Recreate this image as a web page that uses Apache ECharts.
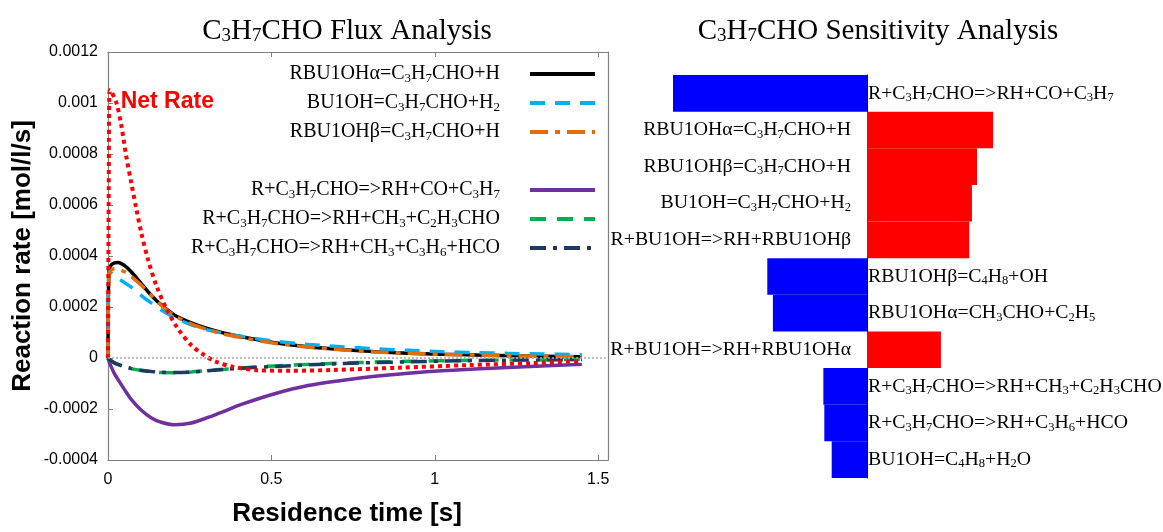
<!DOCTYPE html>
<html>
<head>
<meta charset="utf-8">
<script src="https://cdn.jsdelivr.net/npm/echarts@6/dist/echarts.min.js"></script>
<style>
html, body { margin: 0; padding: 0; background: #fff; }
#chart { width: 1163px; height: 532px; }
</style>
</head>
<body>
<div id="chart"></div>
<script>
// _n marks a subscript digit in the names below
// flux analysis, rates in 1e-4 mol/l/s
const time = [0, 0.003, 0.01, 0.02, 0.031, 0.051, 0.071, 0.102, 0.133, 0.163, 0.204, 0.255, 0.306, 0.357, 0.408, 0.51, 0.612, 0.714, 0.816, 0.918, 1.02, 1.122, 1.224, 1.326, 1.45]
const rbuAlphaH = [0, 3.45, 3.65, 3.73, 3.75, 3.62, 3.38, 2.92, 2.45, 2.08, 1.68, 1.38, 1.15, 0.97, 0.83, 0.60, 0.44, 0.33, 0.25, 0.19, 0.15, 0.12, 0.09, 0.07, 0.05]
const bu1ohH2 = [0, 3.38, 3.33, 3.22, 3.12, 2.95, 2.78, 2.45, 2.15, 1.88, 1.58, 1.30, 1.10, 0.96, 0.85, 0.66, 0.53, 0.44, 0.36, 0.30, 0.25, 0.21, 0.18, 0.155, 0.13]
const rbuBetaH = [0, 3.2, 3.45, 3.50, 3.48, 3.38, 3.20, 2.85, 2.45, 2.07, 1.66, 1.34, 1.11, 0.93, 0.80, 0.58, 0.43, 0.32, 0.24, 0.185, 0.145, 0.115, 0.09, 0.07, 0.05]
const absCO = [0, -0.12, -0.35, -0.62, -0.85, -1.25, -1.62, -2.05, -2.35, -2.52, -2.62, -2.55, -2.33, -2.08, -1.82, -1.40, -1.08, -0.88, -0.72, -0.60, -0.50, -0.43, -0.37, -0.31, -0.25]
const absC2H3CHO = [0, -0.05, -0.12, -0.2, -0.26, -0.35, -0.42, -0.49, -0.54, -0.57, -0.575, -0.545, -0.49, -0.44, -0.39, -0.31, -0.25, -0.20, -0.16, -0.13, -0.11, -0.09, -0.08, -0.065, -0.05]
const absHCO = [0, -0.05, -0.11, -0.19, -0.25, -0.34, -0.41, -0.48, -0.53, -0.56, -0.57, -0.55, -0.50, -0.45, -0.40, -0.33, -0.27, -0.22, -0.18, -0.15, -0.12, -0.10, -0.085, -0.07, -0.06]
const timeNet = [0, 0.002, 0.005, 0.01, 0.026, 0.041, 0.056, 0.071, 0.087, 0.102, 0.122, 0.148, 0.179, 0.214, 0.255, 0.296, 0.326, 0.383, 0.459, 0.561, 0.689, 0.893, 1.097, 1.301, 1.45]
const netRate = [0, 6.0, 10.5, 10.45, 10.0, 9.1, 7.9, 6.88, 5.83, 4.9, 3.88, 2.84, 1.93, 1.15, 0.50, 0.10, -0.12, -0.35, -0.48, -0.50, -0.47, -0.38, -0.28, -0.20, -0.12]
const xRange = [0, 1.53, 0.5] // min, max, step
const yRange = [-0.0004, 0.0012, 0.0002]

const fluxNames = [
  'RBU1OHα=C_3H_7CHO+H',
  'BU1OH=C_3H_7CHO+H_2',
  'RBU1OHβ=C_3H_7CHO+H',
  'R+C_3H_7CHO=>RH+CO+C_3H_7',
  'R+C_3H_7CHO=>RH+CH_3+C_2H_3CHO',
  'R+C_3H_7CHO=>RH+CH_3+C_3H_6+HCO'
]

// sensitivity analysis (normalised), top to bottom
const sensNames = [
  'R+C_3H_7CHO=>RH+CO+C_3H_7',
  'RBU1OHα=C_3H_7CHO+H',
  'RBU1OHβ=C_3H_7CHO+H',
  'BU1OH=C_3H_7CHO+H_2',
  'R+BU1OH=>RH+RBU1OHβ',
  'RBU1OHβ=C_4H_8+OH',
  'RBU1OHα=CH_3CHO+C_2H_5',
  'R+BU1OH=>RH+RBU1OHα',
  'R+C_3H_7CHO=>RH+CH_3+C_2H_3CHO',
  'R+C_3H_7CHO=>RH+C_3H_6+HCO',
  'BU1OH=C_4H_8+H_2O'
]
const sensValues = [-1.0, 0.65, 0.567, 0.541, 0.527, -0.514, -0.485, 0.381, -0.225, -0.22, -0.182]

const serif = 'Liberation Serif'
const sans = 'Liberation Sans'
const sub = s => s.replace(/_(\d)/g, '{s|$1}')
const pairs = (xs, ys) => xs.map((x, i) => [x, ys[i] * 1e-4])

const fluxSets = [rbuAlphaH, bu1ohH2, rbuBetaH, absCO, absC2H3CHO, absHCO]
const fluxColors = ['#000000', '#00b0f0', '#e46c0a', '#7030a0', '#00b050', '#1f3864']
const fluxDash = ['solid', [15, 10], [18, 7, 5, 7], 'solid', [16, 11], [16, 7, 4, 7]]

const chart = echarts.init(document.getElementById('chart'), null, { renderer: 'canvas' })

const legendBase = {
  orient: 'vertical',
  align: 'right',
  right: 561,
  itemWidth: 65,
  itemHeight: 14,
  itemGap: 7,
  selectedMode: false,
  itemStyle: { opacity: 0 },
  lineStyle: { width: 4 },
  formatter: name => sub(name),
  textStyle: {
    fontFamily: serif, fontSize: 20, color: '#000', lineHeight: 22,
    padding: [0, 25, 0, 0],
    rich: { s: { fontFamily: serif, fontSize: 13, verticalAlign: 'bottom', lineHeight: 12 } }
  }
}

const fluxSeries = fluxSets.map((vals, i) => ({
  name: fluxNames[i],
  type: 'line',
  xAxisIndex: 0,
  yAxisIndex: 0,
  data: pairs(time, vals),
  symbol: 'none',
  smooth: 0.3,
  silent: true,
  lineStyle: { color: fluxColors[i], width: 3.5, type: fluxDash[i], cap: 'butt' },
  itemStyle: { color: fluxColors[i] }
}))

fluxSeries.push({
  name: 'Net Rate',
  type: 'line',
  xAxisIndex: 0,
  yAxisIndex: 0,
  data: pairs(timeNet, netRate),
  symbol: 'none',
  smooth: 0.3,
  silent: true,
  lineStyle: { color: '#ff0000', width: 4, type: [4, 4], cap: 'butt' },
  markPoint: {
    symbol: 'circle',
    symbolSize: 0,
    silent: true,
    label: {
      show: true, position: 'right', distance: 11, offset: [0, 11],
      formatter: 'Net Rate', color: '#ff0000', fontFamily: sans, fontWeight: 'bold', fontSize: 23
    },
    data: [{ coord: [timeNet[2], netRate[2] * 1e-4] }]
  },
  markLine: {
    silent: true,
    symbol: 'none',
    label: { show: false },
    lineStyle: { color: '#aaaaaa', type: [2, 2], width: 1.5 },
    data: [{ yAxis: 0 }]
  }
})

const sensData = sensValues.map(v => ({
  value: v,
  itemStyle: { color: v < 0 ? '#0000ff' : '#ff0000' },
  label: { position: v < 0 ? 'right' : 'left', distance: v < 0 ? 1 : 16 }
}))

const frame = { show: true, onZero: false, lineStyle: { color: '#808080', width: 1.2 } }
const titleStyle = {
  fontFamily: serif, fontSize: 29, fontWeight: 'normal', color: '#000', lineHeight: 30,
  rich: { s: { fontFamily: serif, fontSize: 19, verticalAlign: 'bottom', lineHeight: 17 } }
}

chart.setOption({
  animation: false,
  backgroundColor: '#fff',
  title: [
    { text: sub('C_3H_7CHO Flux Analysis'), left: 342, top: 11, textAlign: 'center', textStyle: titleStyle },
    { text: sub('C_3H_7CHO Sensitivity Analysis'), left: 873, top: 11, textAlign: 'center', textStyle: titleStyle }
  ],
  legend: [
    Object.assign({}, legendBase, { top: 58, data: fluxNames.slice(0, 3) }),
    Object.assign({}, legendBase, { top: 174, data: fluxNames.slice(3) })
  ],
  grid: [
    { left: 108, right: 555, top: 52, bottom: 70 },
    { left: 673, right: 102, top: 75, bottom: 54 }
  ],
  xAxis: [
    {
      gridIndex: 0, type: 'value', position: 'bottom',
      min: xRange[0], max: xRange[1], interval: xRange[2],
      axisLine: frame,
      axisTick: { inside: true, length: 5, lineStyle: { color: '#808080' } },
      axisLabel: { color: '#000', fontFamily: sans, fontSize: 16, margin: 12, showMaxLabel: false },
      splitLine: { show: false },
      name: 'Residence time [s]', nameLocation: 'middle', nameGap: 41,
      nameTextStyle: { color: '#000', fontFamily: sans, fontSize: 26, fontWeight: 'bold', padding: [0, 22, 0, 0] }
    },
    {
      gridIndex: 0, type: 'value', position: 'top',
      min: xRange[0], max: xRange[1], interval: xRange[2],
      axisLine: frame,
      axisTick: { inside: true, length: 5, lineStyle: { color: '#808080' } },
      axisLabel: { show: false },
      splitLine: { show: false }
    },
    {
      gridIndex: 1, type: 'value', min: -1, max: 1, show: false
    }
  ],
  yAxis: [
    {
      gridIndex: 0, type: 'value', position: 'left',
      min: yRange[0], max: yRange[1], interval: yRange[2],
      axisLine: frame,
      axisTick: { inside: true, length: 5, lineStyle: { color: '#808080' } },
      axisLabel: { color: '#000', fontFamily: sans, fontSize: 16, margin: 10 },
      splitLine: { show: false },
      name: 'Reaction rate [mol/l/s]', nameLocation: 'middle', nameGap: 72,
      nameTextStyle: { color: '#000', fontFamily: sans, fontSize: 26, fontWeight: 'bold' }
    },
    {
      gridIndex: 0, type: 'value', position: 'right',
      min: yRange[0], max: yRange[1], interval: yRange[2],
      axisLine: frame,
      axisTick: { show: false },
      axisLabel: { show: false },
      splitLine: { show: false }
    },
    {
      gridIndex: 1, type: 'category', inverse: true, data: sensNames,
      axisLine: { show: true, onZero: true, lineStyle: { color: '#000', width: 1 } },
      axisTick: { show: false },
      axisLabel: { show: false },
      splitLine: { show: false }
    }
  ],
  series: fluxSeries.concat([{
    type: 'bar',
    xAxisIndex: 2,
    yAxisIndex: 2,
    barCategoryGap: '0%',
    silent: true,
    data: sensData,
    label: {
      show: true,
      formatter: p => sub(sensNames[p.dataIndex]),
      color: '#000', fontFamily: serif, fontSize: 19.8, lineHeight: 22,
      rich: { s: { fontFamily: serif, fontSize: 12.5, verticalAlign: 'bottom', lineHeight: 12 } }
    }
  }])
})
</script>
</body>
</html>
